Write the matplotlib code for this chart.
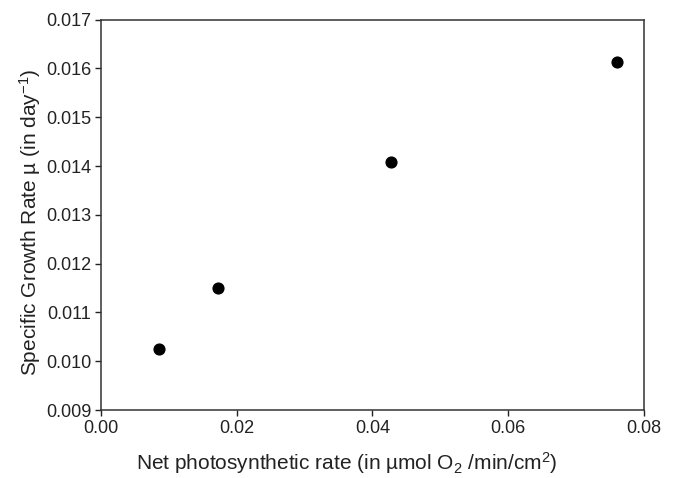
import matplotlib
matplotlib.use('Agg')
import matplotlib.pyplot as plt
from matplotlib.ticker import FormatStrFormatter

plt.rcParams['font.family'] = ['Liberation Sans', 'DejaVu Sans']
plt.rcParams['mathtext.fontset'] = 'custom'
plt.rcParams['mathtext.rm'] = 'Liberation Sans'
plt.rcParams['mathtext.it'] = 'Liberation Sans:italic'

# net photosynthetic rate vs specific growth rate
photo_rate = [0.0085, 0.0173, 0.0427, 0.0760]
growth_rate = [0.01026, 0.01151, 0.01408, 0.01614]

xticks = [0.00, 0.02, 0.04, 0.06, 0.08]
yticks = [0.009, 0.010, 0.011, 0.012, 0.013, 0.014, 0.015, 0.016, 0.017]

fig = plt.figure(figsize=(6.77, 4.78), dpi=100)
ax = fig.add_axes([0.149, 0.142, 0.802, 0.817])

ax.scatter(photo_rate, growth_rate, s=60, color='black', zorder=3)

ax.set_xlim(0, 0.08)
ax.set_ylim(0.009, 0.017)
ax.set_xticks(xticks)
ax.set_yticks(yticks)
ax.xaxis.set_major_formatter(FormatStrFormatter('%.2f'))
ax.yaxis.set_major_formatter(FormatStrFormatter('%.3f'))
ax.tick_params(direction='out', length=4, width=1, labelsize=13, colors='#222222', pad=3)
for sp in ax.spines.values():
    sp.set_linewidth(1.1)
    sp.set_color('#333333')

ax.set_xlabel('Net photosynthetic rate (in \u00b5mol O$_2$ /min/cm$^2$)', fontsize=15, color='#222222')
ax.set_ylabel('Specific Growth Rate \u00b5 (in day$^{-1}$)', fontsize=15, color='#222222')
ax.xaxis.set_label_coords(0.453, -0.102)
ax.yaxis.set_label_coords(-0.107, 0.482)

fig.savefig('out.png', dpi=100)
